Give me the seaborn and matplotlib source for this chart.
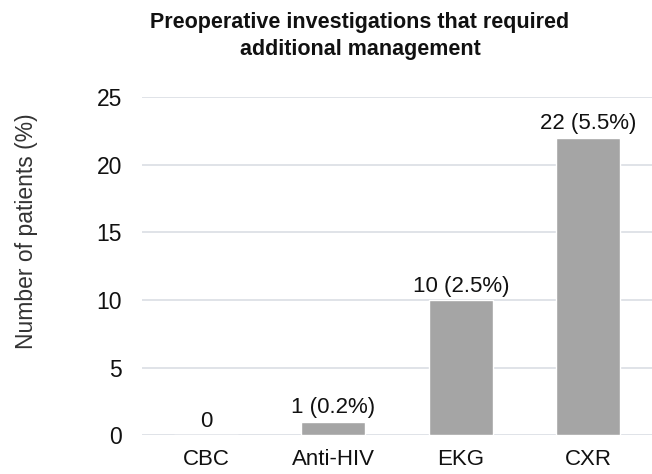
import pandas as pd
import matplotlib.pyplot as plt
import seaborn as sns

# Data
tests = ["CBC", "Anti-HIV", "EKG", "CXR"]
patients = [0, 1, 10, 22]
bar_labels = ["0", "1 (0.2%)", "10 (2.5%)", "22 (5.5%)"]

df = pd.DataFrame({"Test": tests, "Patients": patients})

sns.set_style("white")
plt.rcParams['font.family'] = ['Liberation Sans', 'DejaVu Sans']

fig = plt.figure(figsize=(6.52, 4.74), dpi=100)
# axes spans x 142..652 px, y 97..435 px
ax = fig.add_axes([0.218, 0.082, 0.782, 0.713])

sns.barplot(data=df, x="Test", y="Patients", color="#a5a5a5", width=0.5,
            saturation=1, ax=ax, zorder=3)

for i, lab in enumerate(bar_labels):
    ax.text(i, patients[i] + 0.25, lab, ha="center", va="bottom", fontsize=16, color="#111111")

ax.set_ylim(0, 25)
ax.set_yticks([0, 5, 10, 15, 20, 25])
ax.yaxis.grid(True, color="#dde1e6", linewidth=1.3, zorder=0)
ax.set_axisbelow(True)
for s in ax.spines.values():
    s.set_visible(False)
ax.tick_params(axis="y", length=0, labelsize=16.5, colors="#111111", pad=14.5)
ax.tick_params(axis="x", length=0, labelsize=16, colors="#111111", pad=10)
ax.set_xlabel("")
ax.set_ylabel("")
fig.text(27 / 652, 1 - 231 / 474, "Number of patients (%)", rotation=90,
         ha="center", va="center", fontsize=16.5, color="#333333")

fig.text(360 / 652, 1 - 36 / 474,
         "Preoperative investigations that required\nadditional management",
         ha="center", va="center", fontsize=15.5, fontweight="bold",
         color="#111111", linespacing=1.35)

plt.savefig("out.png", dpi=100)
